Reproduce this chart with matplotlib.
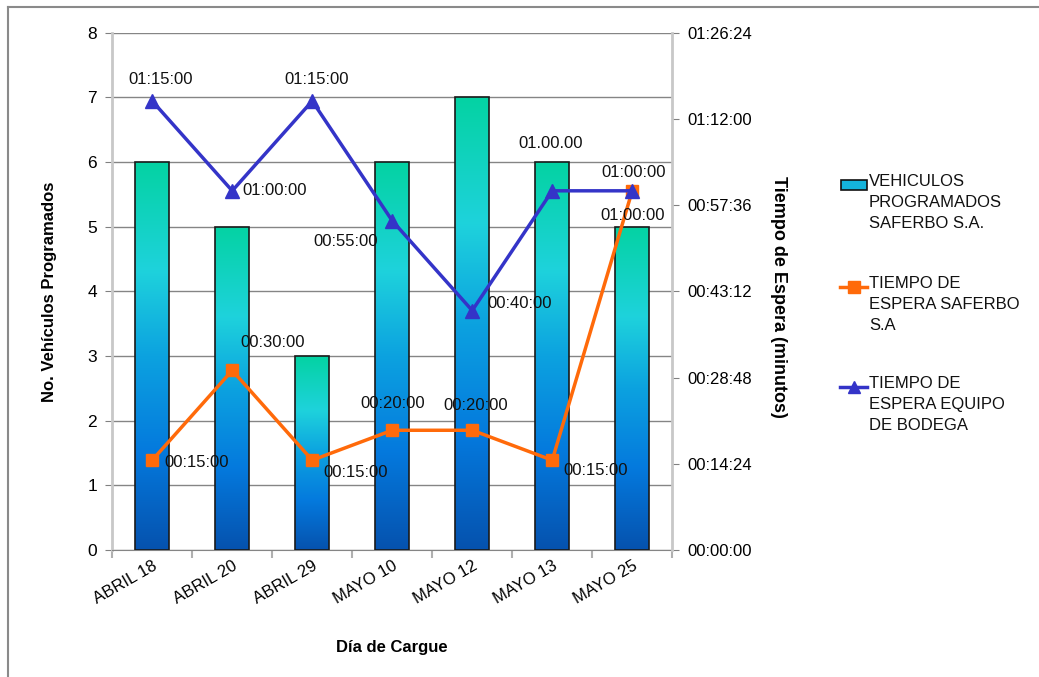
import numpy as np
import matplotlib.pyplot as plt
from matplotlib.colors import LinearSegmentedColormap
from matplotlib.lines import Line2D
from matplotlib.patches import Rectangle
from matplotlib.ticker import FuncFormatter

plt.rcParams['font.family'] = ['Liberation Sans', 'DejaVu Sans']

dias = ['ABRIL 18', 'ABRIL 20', 'ABRIL 29', 'MAYO 10', 'MAYO 12', 'MAYO 13', 'MAYO 25']
vehiculos = [6, 5, 3, 6, 7, 6, 5]
# tiempos de espera en minutos
espera_saferbo = [15, 30, 15, 20, 20, 15, 60]
espera_bodega = [75, 60, 75, 55, 40, 60, 60]

nombres = ['VEHICULOS\nPROGRAMADOS\nSAFERBO S.A.',
           'TIEMPO DE\nESPERA SAFERBO\nS.A',
           'TIEMPO DE\nESPERA EQUIPO\nDE BODEGA']

c_naranja = '#FF6A0A'
c_azul = '#3434C8'


def hms(m, sep=':'):
    s = int(round(m * 60))
    return sep.join(['%02d' % (s // 3600), '%02d' % (s % 3600 // 60), '%02d' % (s % 60)])


grad = LinearSegmentedColormap.from_list('barras', [
    (0.0, '#0652AE'), (0.25, '#0479DD'), (0.5, '#0CA2E0'),
    (0.72, '#1ED2DC'), (1.0, '#04D3A3')])

fig = plt.figure(figsize=(10.39, 6.77), dpi=100)
ax = fig.add_axes([0.108, 0.1876, 0.539, 0.764])
ax2 = ax.twinx()

x = np.arange(len(dias))

# barras con degradado
bars = ax.bar(x, vehiculos, width=0.42, color='none', edgecolor='#1a1a1a',
              linewidth=1.2, zorder=3)
g = np.linspace(0, 1, 256).reshape(-1, 1)
for b in bars:
    im = ax.imshow(g, cmap=grad, origin='lower', aspect='auto', zorder=2,
                   extent=(b.get_x(), b.get_x() + b.get_width(), 0, b.get_height()))
    im.set_clip_path(b)

ax.set_xlim(-0.5, len(dias) - 0.5)
ax.set_ylim(0, 8)
ax.set_yticks(range(0, 9))
ax.yaxis.grid(True, color='#858585', lw=1)
ax.set_axisbelow(True)

ax.set_xticks(x)
ax.set_xticklabels(dias, rotation=30, ha='right', rotation_mode='anchor', fontsize=12)
ax.set_xticks(np.arange(-0.5, len(dias), 1), minor=True)
ax.tick_params(axis='x', which='major', length=0, pad=6)
ax.tick_params(axis='x', which='minor', length=6, color='#b0b0b0', width=1.5)
ax.tick_params(axis='y', length=5, color='#808080', labelsize=12.5, pad=6)

for s in ['top', 'right']:
    ax.spines[s].set_visible(False)
ax.spines['left'].set_color('#c8c8c8')
ax.spines['left'].set_linewidth(2)
ax.spines['bottom'].set_color('#858585')

# tiempos de espera en el eje derecho
ax2.plot(x, espera_saferbo, color=c_naranja, lw=2.5, marker='s', ms=9, zorder=4)
ax2.plot(x, espera_bodega, color=c_azul, lw=2.5, marker='^', ms=10, zorder=4)
ax2.set_ylim(0, 86.4)
ax2.set_yticks(np.arange(0, 86.5, 14.4))
ax2.yaxis.set_major_formatter(FuncFormatter(lambda v, p: hms(v)))
ax2.tick_params(axis='y', length=5, color='#808080', labelsize=12, pad=6)
for s in ['top', 'left', 'bottom']:
    ax2.spines[s].set_visible(False)
ax2.spines['right'].set_color('#c8c8c8')
ax2.spines['right'].set_linewidth(2)

# etiquetas de datos (desplazamientos en pixeles)
off_naranja = [(12, -2, 'left'), (8, 28, 'left'), (11, -12, 'left'), (0, 27, 'center'),
               (3, 25, 'center'), (11, -10, 'left'), (0, -25, 'center')]
off_azul = [(8, 22, 'center'), (10, 0, 'left'), (4, 22, 'center'), (-14, -21, 'right'),
            (15, 7, 'left'), (-2, 47, 'center'), (1, 18, 'center')]
for i, v in enumerate(espera_saferbo):
    dx, dy, ha = off_naranja[i]
    ax2.annotate(hms(v), (x[i], v), xytext=(dx, dy), textcoords='offset pixels',
                 ha=ha, va='center', fontsize=12, color='#111111', zorder=5)
for i, v in enumerate(espera_bodega):
    dx, dy, ha = off_azul[i]
    txt = hms(v, '.') if i == 5 else hms(v)
    ax2.annotate(txt, (x[i], v), xytext=(dx, dy), textcoords='offset pixels',
                 ha=ha, va='center', fontsize=12, color='#111111', zorder=5)

ax.set_ylabel('No. Vehículos Programados', fontsize=12, fontweight='bold')
ax.yaxis.set_label_coords(-0.098, 0.5)
ax.set_xlabel('Día de Cargue', fontsize=12, fontweight='bold')
ax.xaxis.set_label_coords(0.5, -0.174)
ax2.set_ylabel('Tiempo de Espera (minutos)', fontsize=13, fontweight='bold', rotation=-90)
ax2.yaxis.set_label_coords(1.205, 0.49)

# leyenda
W, H = 1039.0, 677.0
ly = [185, 287, 387]
fig.add_artist(Rectangle((841 / W, 1 - 190 / H), 26 / W, 10 / H, transform=fig.transFigure,
                         facecolor='#14B4DC', edgecolor='#111111', lw=1.2))
for y0, c, m in [(ly[1], c_naranja, 's'), (ly[2], c_azul, '^')]:
    fig.add_artist(Line2D([840 / W, 867 / W], [1 - y0 / H] * 2, transform=fig.transFigure,
                          color=c, lw=2.5))
    fig.add_artist(Line2D([853.5 / W], [1 - y0 / H], transform=fig.transFigure,
                          color=c, marker=m, ms=9, lw=0))
for y0, t in zip(ly, nombres):
    fig.text(869 / W, 1 - (y0 - 11) / H, t, fontsize=12, va='top', ha='left',
             linespacing=1.5, color='#111111')

# marco del grafico
fig.add_artist(Line2D([8 / W, 1], [1 - 7 / H] * 2, transform=fig.transFigure, color='#8a8a8a', lw=1.5))
fig.add_artist(Line2D([8 / W] * 2, [0, 1 - 7 / H], transform=fig.transFigure, color='#8a8a8a', lw=1.5))

fig.savefig('out.png', dpi=100)
plt.close()
